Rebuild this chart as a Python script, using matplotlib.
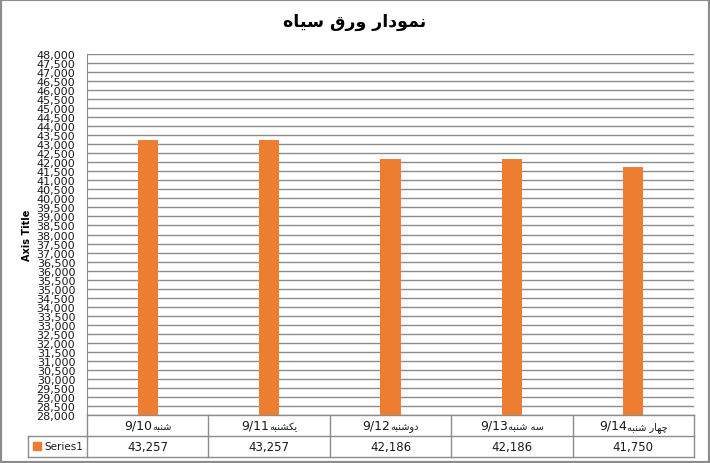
import numpy as np
import matplotlib
matplotlib.use('Agg')
import matplotlib.pyplot as plt
import matplotlib.transforms as mtransforms
from matplotlib.offsetbox import TextArea, HPacker, AnnotationBbox
from matplotlib.patches import Rectangle

# ─── Data ───
days = ['شنبه', 'یکشنبه', 'دوشنبه', 'سه شنبه', 'چهار شنبه']
dates = ['9/10', '9/11', '9/12', '9/13', '9/14']
values = [43257, 43257, 42186, 42186, 41750]
series_name = 'Series1'
title = 'نمودار ورق سیاه'
y_min, y_max, y_step = 28000, 48000, 500

BAR_COLOR = '#ED7D31'
GRID_COLOR = '#8c8c8c'

# ─── Minimal Arabic/Persian shaping (matplotlib has no bidi/shaping) ───
# isolated, final, initial, medial ; None = does not join to the next letter
AR_FORMS = {
    'ا': (0xFE8D, 0xFE8E, None, None),
    'ب': (0xFE8F, 0xFE90, 0xFE91, 0xFE92),
    'د': (0xFEA9, 0xFEAA, None, None),
    'ر': (0xFEAD, 0xFEAE, None, None),
    'س': (0xFEB1, 0xFEB2, 0xFEB3, 0xFEB4),
    'ش': (0xFEB5, 0xFEB6, 0xFEB7, 0xFEB8),
    'ق': (0xFED5, 0xFED6, 0xFED7, 0xFED8),
    'م': (0xFEE1, 0xFEE2, 0xFEE3, 0xFEE4),
    'ن': (0xFEE5, 0xFEE6, 0xFEE7, 0xFEE8),
    'ه': (0xFEE9, 0xFEEA, 0xFEEB, 0xFEEC),
    'و': (0xFEED, 0xFEEE, None, None),
    'ی': (0xFBFC, 0xFBFD, 0xFBFE, 0xFBFF),
    'ک': (0xFB8E, 0xFB8F, 0xFB90, 0xFB91),
    'چ': (0xFB7A, 0xFB7B, 0xFB7C, 0xFB7D),
}


def shape(text):
    out = []
    for i, ch in enumerate(text):
        if ch not in AR_FORMS:
            out.append(ch)
            continue
        f = AR_FORMS[ch]
        prev = text[i - 1] if i > 0 else ''
        nxt = text[i + 1] if i + 1 < len(text) else ''
        join_prev = prev in AR_FORMS and AR_FORMS[prev][2] is not None
        join_next = nxt in AR_FORMS and f[2] is not None
        if join_prev and join_next:
            code = f[3]
        elif join_prev:
            code = f[1]
        elif join_next:
            code = f[2]
        else:
            code = f[0]
        out.append(chr(code))
    return ''.join(reversed(out))


plt.rcParams['font.family'] = ['DejaVu Sans']

W, H = 710, 464
fig = plt.figure(figsize=(W / 100, H / 100), dpi=100)
ax = fig.add_axes([87 / W, (H - 416) / H, 607 / W, 361 / H])

x = np.arange(len(values))
ax.bar(x, values, width=0.165, color=BAR_COLOR, zorder=3)
ax.set_xlim(-0.5, len(values) - 0.5)
ax.set_ylim(y_min, y_max)
ax.set_yticks(np.arange(y_min, y_max + 1, y_step))
ax.set_yticklabels([f'{v:,}' for v in range(y_min, y_max + 1, y_step)])
ax.set_xticks([])
ax.tick_params(axis='y', length=0, pad=8.5, labelsize=8, labelcolor='#1a1a1a')
ax.grid(axis='y', color=GRID_COLOR, linewidth=1, zorder=0)
for s in ['top', 'right', 'bottom']:
    ax.spines[s].set_visible(False)
ax.spines['left'].set_color(GRID_COLOR)

# ─── Data table under the plot ───
row_h = 21 / 361
head_x = (28 - 87) / 607
trans = mtransforms.blended_transform_factory(ax.transData, ax.transAxes)
line_kw = dict(color=GRID_COLOR, linewidth=1, clip_on=False)

ax.plot([-0.5, len(values) - 0.5], [0, 0], transform=trans, **line_kw)
ax.plot([head_x, 1], [-row_h, -row_h], transform=ax.transAxes, **line_kw)
ax.plot([head_x, 1], [-2 * row_h, -2 * row_h], transform=ax.transAxes, **line_kw)
ax.plot([head_x, head_x], [-row_h, -2 * row_h], transform=ax.transAxes, **line_kw)
for b in np.arange(-0.5, len(values), 1.0):
    ax.plot([b, b], [0, -2 * row_h], transform=trans, **line_kw)

for i, (d, day, v) in enumerate(zip(dates, days, values)):
    label = HPacker(children=[
        TextArea(d, textprops=dict(fontsize=9, color='#1a1a1a')),
        TextArea(shape(day), textprops=dict(fontsize=7, color='#1a1a1a')),
    ], align='baseline', pad=0, sep=0)
    ab = AnnotationBbox(label, (i, -row_h / 2), xycoords=trans,
                        frameon=False, pad=0, box_alignment=(0.5, 0.5),
                        annotation_clip=False)
    ax.add_artist(ab)
    ax.text(i, -1.5 * row_h, f'{v:,}', transform=trans, ha='center',
            va='center', fontsize=8.5, color='#1a1a1a')

# legend key in table header
fig.patches.append(Rectangle((33 / W, (H - 451) / H), 8 / W, 8 / H,
                             transform=fig.transFigure, color=BAR_COLOR))
fig.text(44 / W, (H - 447) / H, series_name, fontsize=7.5, va='center',
         ha='left', color='#1a1a1a')

# ─── Titles ───
fig.text(0.5, 1 - 22 / H, shape(title), fontsize=12.5, fontweight='bold',
         ha='center', va='center')
fig.text(27 / W, 1 - 235 / H, 'Axis Title', fontsize=7, fontweight='bold',
         rotation=90, ha='center', va='center')

# chart border
fig.patches.append(Rectangle((0, 0), 1, 1, transform=fig.transFigure,
                             fill=False, edgecolor='#8c8c8c', linewidth=3))

fig.savefig('out.png', dpi=100)
